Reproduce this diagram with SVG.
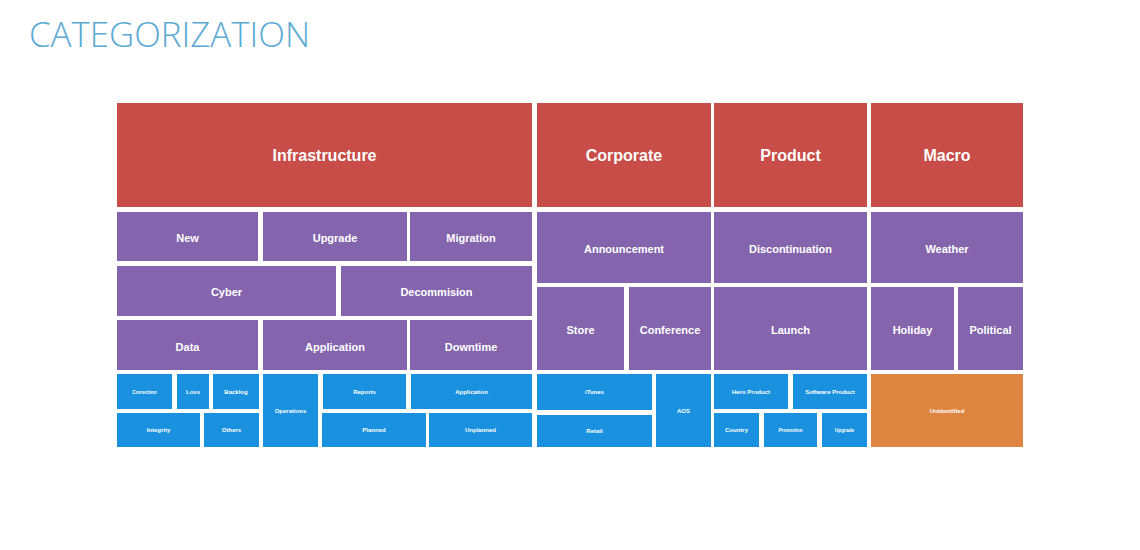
<svg xmlns="http://www.w3.org/2000/svg" width="1140" height="550" viewBox="0 0 1140 550">
<style>
.r{fill:#C84C47}.p{fill:#8464AD}.b{fill:#1A91DF}.o{fill:#DE8641}
text{font-family:"Liberation Sans",Arial,sans-serif;font-weight:bold;fill:#fff;text-anchor:middle}
.t1{font-size:16px}.t2{font-size:11px}.t3{font-size:6px}.t4{font-size:4.8px}
.title{font-family:"Open Sans","Liberation Sans",sans-serif;font-weight:300;font-size:34px;fill:#5BAAD4;text-anchor:start}
</style>
<rect width="1140" height="550" fill="#fff"/>
<text class="title" x="29" y="47" textLength="281" lengthAdjust="spacingAndGlyphs">CATEGORIZATION</text>
<g id="infrastructure"><rect class="r" x="117" y="103" width="415" height="104"/><text class="t1" x="324.5" y="161">Infrastructure</text></g>
<g id="corporate"><rect class="r" x="537" y="103" width="174" height="104"/><text class="t1" x="624" y="161">Corporate</text></g>
<g id="product"><rect class="r" x="714" y="103" width="153" height="104"/><text class="t1" x="790.5" y="161">Product</text></g>
<g id="macro"><rect class="r" x="871" y="103" width="152" height="104"/><text class="t1" x="947" y="161">Macro</text></g>

<g id="new"><rect class="p" x="117" y="212" width="141" height="49"/><text class="t2" x="187.5" y="242">New</text></g>
<g id="upgrade"><rect class="p" x="263" y="212" width="144" height="49"/><text class="t2" x="335" y="242">Upgrade</text></g>
<g id="migration"><rect class="p" x="410" y="212" width="122" height="49"/><text class="t2" x="471" y="242">Migration</text></g>
<g id="cyber"><rect class="p" x="117" y="266" width="219" height="50"/><text class="t2" x="226.5" y="296">Cyber</text></g>
<g id="decommision"><rect class="p" x="341" y="266" width="191" height="50"/><text class="t2" x="436.5" y="296">Decommision</text></g>
<g id="data"><rect class="p" x="117" y="320" width="141" height="50"/><text class="t2" x="187.5" y="351">Data</text></g>
<g id="application"><rect class="p" x="263" y="320" width="144" height="50"/><text class="t2" x="335" y="351">Application</text></g>
<g id="downtime"><rect class="p" x="410" y="320" width="122" height="50"/><text class="t2" x="471" y="351">Downtime</text></g>

<g id="announcement"><rect class="p" x="537" y="212" width="174" height="71"/><text class="t2" x="624" y="253">Announcement</text></g>
<g id="store"><rect class="p" x="537" y="287" width="87" height="83"/><text class="t2" x="580.5" y="334">Store</text></g>
<g id="conference"><rect class="p" x="629" y="287" width="82" height="83"/><text class="t2" x="670" y="334">Conference</text></g>
<g id="discontinuation"><rect class="p" x="714" y="212" width="153" height="71"/><text class="t2" x="790.5" y="253">Discontinuation</text></g>
<g id="launch"><rect class="p" x="714" y="287" width="153" height="83"/><text class="t2" x="790.5" y="334">Launch</text></g>
<g id="weather"><rect class="p" x="871" y="212" width="152" height="71"/><text class="t2" x="947" y="253">Weather</text></g>
<g id="holiday"><rect class="p" x="871" y="287" width="83" height="83"/><text class="t2" x="912.5" y="334">Holiday</text></g>
<g id="political"><rect class="p" x="958" y="287" width="65" height="83"/><text class="t2" x="990.5" y="334">Political</text></g>

<g id="correction"><rect class="b" x="117" y="374" width="55" height="35"/><text class="t4" x="144.5" y="393.5">Correction</text></g>
<g id="loss"><rect class="b" x="177" y="374" width="32" height="35"/><text class="t3" x="193" y="394">Loss</text></g>
<g id="backlog"><rect class="b" x="213" y="374" width="46" height="35"/><text class="t3" x="236" y="394">Backlog</text></g>
<g id="integrity"><rect class="b" x="117" y="413" width="83" height="34"/><text class="t3" x="158.5" y="432">Integrity</text></g>
<g id="others"><rect class="b" x="204" y="413" width="55" height="34"/><text class="t3" x="231.5" y="432">Others</text></g>
<g id="operations"><rect class="b" x="263" y="374" width="55" height="73"/><text class="t3" x="290.5" y="413">Operations</text></g>
<g id="reports"><rect class="b" x="323" y="374" width="83" height="35"/><text class="t3" x="364.5" y="394">Reports</text></g>
<g id="application2"><rect class="b" x="411" y="374" width="121" height="35"/><text class="t3" x="471.5" y="394">Application</text></g>
<g id="planned"><rect class="b" x="322" y="413" width="104" height="34"/><text class="t3" x="374" y="432">Planned</text></g>
<g id="unplanned"><rect class="b" x="429" y="413" width="103" height="34"/><text class="t3" x="480.5" y="432">Unplanned</text></g>
<g id="itunes"><rect class="b" x="537" y="374" width="115" height="36"/><text class="t3" x="594.5" y="394">iTunes</text></g>
<g id="retail"><rect class="b" x="537" y="415" width="115" height="32"/><text class="t3" x="594.5" y="433">Retail</text></g>
<g id="aos"><rect class="b" x="656" y="374" width="55" height="73"/><text class="t3" x="683.5" y="413">AOS</text></g>
<g id="hero"><rect class="b" x="714" y="374" width="74" height="35"/><text class="t3" x="751" y="394">Hero Product</text></g>
<g id="software"><rect class="b" x="793" y="374" width="74" height="35"/><text class="t3" x="830" y="394">Software Product</text></g>
<g id="country"><rect class="b" x="714" y="413" width="45" height="34"/><text class="t3" x="736.5" y="432">Country</text></g>
<g id="promotion"><rect class="b" x="764" y="413" width="53" height="34"/><text class="t4" x="790.5" y="432">Promotion</text></g>
<g id="upgrade2"><rect class="b" x="822" y="413" width="45" height="34"/><text class="t4" x="844.5" y="432">Upgrade</text></g>
<g id="unidentified"><rect class="o" x="871" y="374" width="152" height="73"/><text class="t3" x="947" y="413">Unidentified</text></g>
<g id="connectors"></g>
</svg>
